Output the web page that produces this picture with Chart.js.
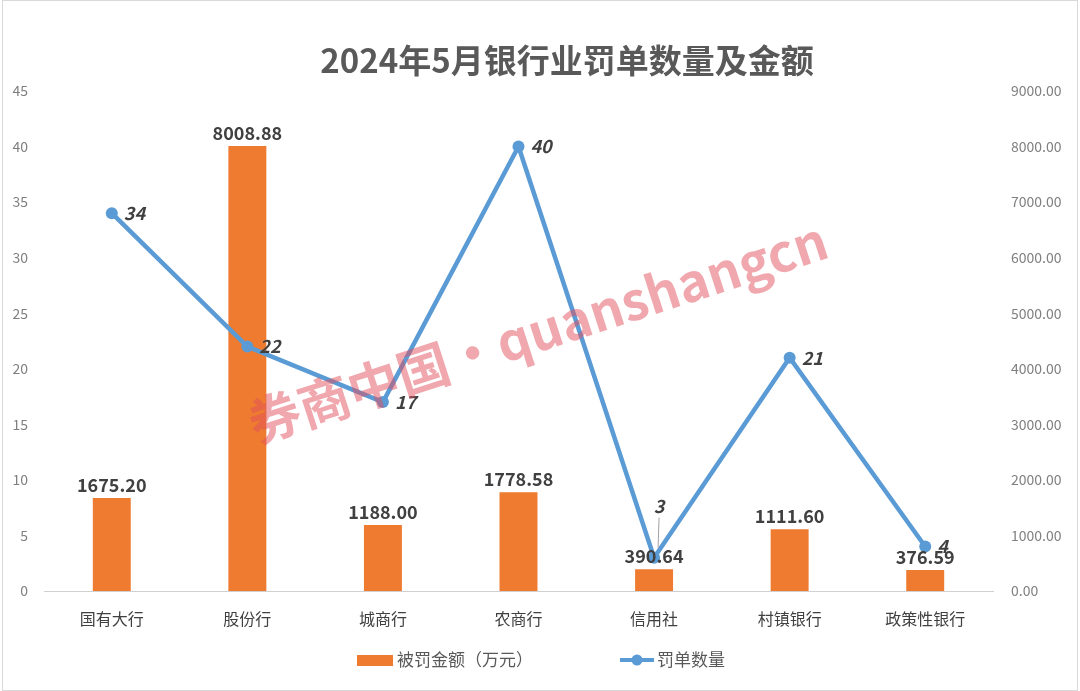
<!DOCTYPE html>
<html>
<head>
<meta charset="utf-8">
<script src="https://cdn.jsdelivr.net/npm/chart.js@4.4.1/dist/chart.umd.min.js"></script>
<style>
  html, body { margin: 0; padding: 0; background: #fff; }
  #wrap { width: 1080px; height: 691px; position: relative; }
</style>
</head>
<body>
<div id="wrap"><canvas id="chart" width="1080" height="691"></canvas></div>
<script>
// chart data
const categories = ['国有大行', '股份行', '城商行', '农商行', '信用社', '村镇银行', '政策性银行'];
const fineAmounts = [1675.20, 8008.88, 1188.00, 1778.58, 390.64, 1111.60, 376.59];
const fineCounts = [34, 22, 17, 40, 3, 21, 4];
const leftTicks = [0, 5, 10, 15, 20, 25, 30, 35, 40, 45];
const rightTicks = [0, 1000, 2000, 3000, 4000, 5000, 6000, 7000, 8000, 9000];
const titleText = '2024年5月银行业罚单数量及金额';
const barLabel = '被罚金额（万元）';
const lineLabel = '罚单数量';

const FONT = '"Noto Sans CJK SC", "Open Sans", sans-serif';
const ORANGE = '#EE7B30';
const BLUE = '#5B9BD5';

// title, legend, value labels and watermark
const decorPlugin = {
    id: 'decor',
    afterDatasetsDraw(chart) {
        const ctx = chart.ctx;
        ctx.save();

        // bar value labels
        const barMeta = chart.getDatasetMeta(0);
        ctx.font = 'bold 18px ' + FONT;
        ctx.fillStyle = '#404040';
        ctx.textAlign = 'center';
        ctx.textBaseline = 'bottom';
        barMeta.data.forEach((bar, i) => {
            ctx.fillText(fineAmounts[i].toFixed(2), bar.x, bar.y - 4);
        });

        // line value labels (the 信用社 one sits above with a leader line)
        const lineMeta = chart.getDatasetMeta(1);
        ctx.font = 'italic bold 18px ' + FONT;
        ctx.textBaseline = 'middle';
        lineMeta.data.forEach((pt, i) => {
            if (i === 4) {
                ctx.strokeStyle = '#a0a0a0';
                ctx.lineWidth = 1;
                ctx.beginPath();
                ctx.moveTo(pt.x + 4, pt.y - 10);
                ctx.lineTo(pt.x + 5, pt.y - 40);
                ctx.stroke();
                ctx.textAlign = 'center';
                ctx.fillText(String(fineCounts[i]), pt.x + 5, pt.y - 52);
            } else {
                ctx.textAlign = 'left';
                ctx.fillText(String(fineCounts[i]), pt.x + 12, pt.y);
            }
        });

        // watermark
        ctx.save();
        ctx.translate(256, 444);
        ctx.rotate(-18 * Math.PI / 180);
        ctx.font = 'bold 52px ' + FONT;
        const wm = '券商中国•quanshangcn';
        const w = ctx.measureText(wm).width;
        ctx.scale(605 / w, 1);
        ctx.fillStyle = 'rgba(226, 80, 92, 0.5)';
        ctx.textAlign = 'left';
        ctx.textBaseline = 'alphabetic';
        ctx.fillText(wm, 0, 0);
        ctx.restore();

        // title
        ctx.font = 'bold 33px ' + FONT;
        ctx.fillStyle = '#595959';
        ctx.textAlign = 'center';
        ctx.textBaseline = 'middle';
        ctx.fillText(titleText, 567, 60);

        // legend
        const ly = 660;
        ctx.fillStyle = ORANGE;
        ctx.fillRect(357, ly - 5, 36, 11);
        ctx.font = '17px ' + FONT;
        ctx.fillStyle = '#595959';
        ctx.textAlign = 'left';
        ctx.fillText(barLabel, 397, ly);

        ctx.strokeStyle = BLUE;
        ctx.lineWidth = 4;
        ctx.beginPath();
        ctx.moveTo(620, ly);
        ctx.lineTo(654, ly);
        ctx.stroke();
        ctx.fillStyle = BLUE;
        ctx.beginPath();
        ctx.arc(637, ly, 5.5, 0, Math.PI * 2);
        ctx.fill();
        ctx.fillStyle = '#595959';
        ctx.fillText(lineLabel, 657, ly);

        // frame
        ctx.strokeStyle = '#d9d9d9';
        ctx.lineWidth = 1;
        ctx.strokeRect(2.5, 0.5, 1075, 690);

        ctx.restore();
    }
};

const canvas = document.getElementById('chart');
new Chart(canvas.getContext('2d'), {
    data: {
        labels: categories,
        datasets: [
            {
                type: 'bar',
                label: barLabel,
                data: fineAmounts,
                yAxisID: 'yRight',
                backgroundColor: ORANGE,
                borderWidth: 0,
                barPercentage: 0.56,
                categoryPercentage: 0.5,
                order: 2
            },
            {
                type: 'line',
                label: lineLabel,
                data: fineCounts,
                yAxisID: 'yLeft',
                borderColor: BLUE,
                backgroundColor: BLUE,
                borderWidth: 4.5,
                pointRadius: 6,
                pointBackgroundColor: BLUE,
                pointBorderWidth: 0,
                tension: 0,
                order: 1
            }
        ]
    },
    options: {
        responsive: false,
        animation: false,
        devicePixelRatio: 1,
        layout: { padding: { top: 91, bottom: 58, left: 0, right: 0 } },
        plugins: {
            legend: { display: false },
            title: { display: false },
            tooltip: { enabled: false }
        },
        scales: {
            x: {
                grid: { display: false, drawTicks: false },
                border: { color: '#d0d0d0', width: 1 },
                ticks: {
                    color: '#404040',
                    font: { size: 16, family: FONT },
                    padding: 18
                },
                afterFit(scale) { scale.height = 42; }
            },
            yLeft: {
                position: 'left',
                min: 0,
                max: 45,
                afterBuildTicks(scale) {
                    scale.ticks = leftTicks.map(v => ({ value: v }));
                },
                grid: { display: false },
                border: { display: false },
                ticks: {
                    color: '#7f7f7f',
                    font: { size: 14, family: FONT },
                    padding: 8
                },
                afterFit(scale) { scale.width = 44; }
            },
            yRight: {
                position: 'right',
                min: 0,
                max: 9000,
                afterBuildTicks(scale) {
                    scale.ticks = rightTicks.map(v => ({ value: v }));
                },
                grid: { display: false },
                border: { display: false },
                ticks: {
                    color: '#7f7f7f',
                    font: { size: 14, family: FONT },
                    padding: 10,
                    callback: v => Number(v).toFixed(2)
                },
                afterFit(scale) { scale.width = 87; }
            }
        }
    },
    plugins: [decorPlugin]
});
</script>
</body>
</html>
